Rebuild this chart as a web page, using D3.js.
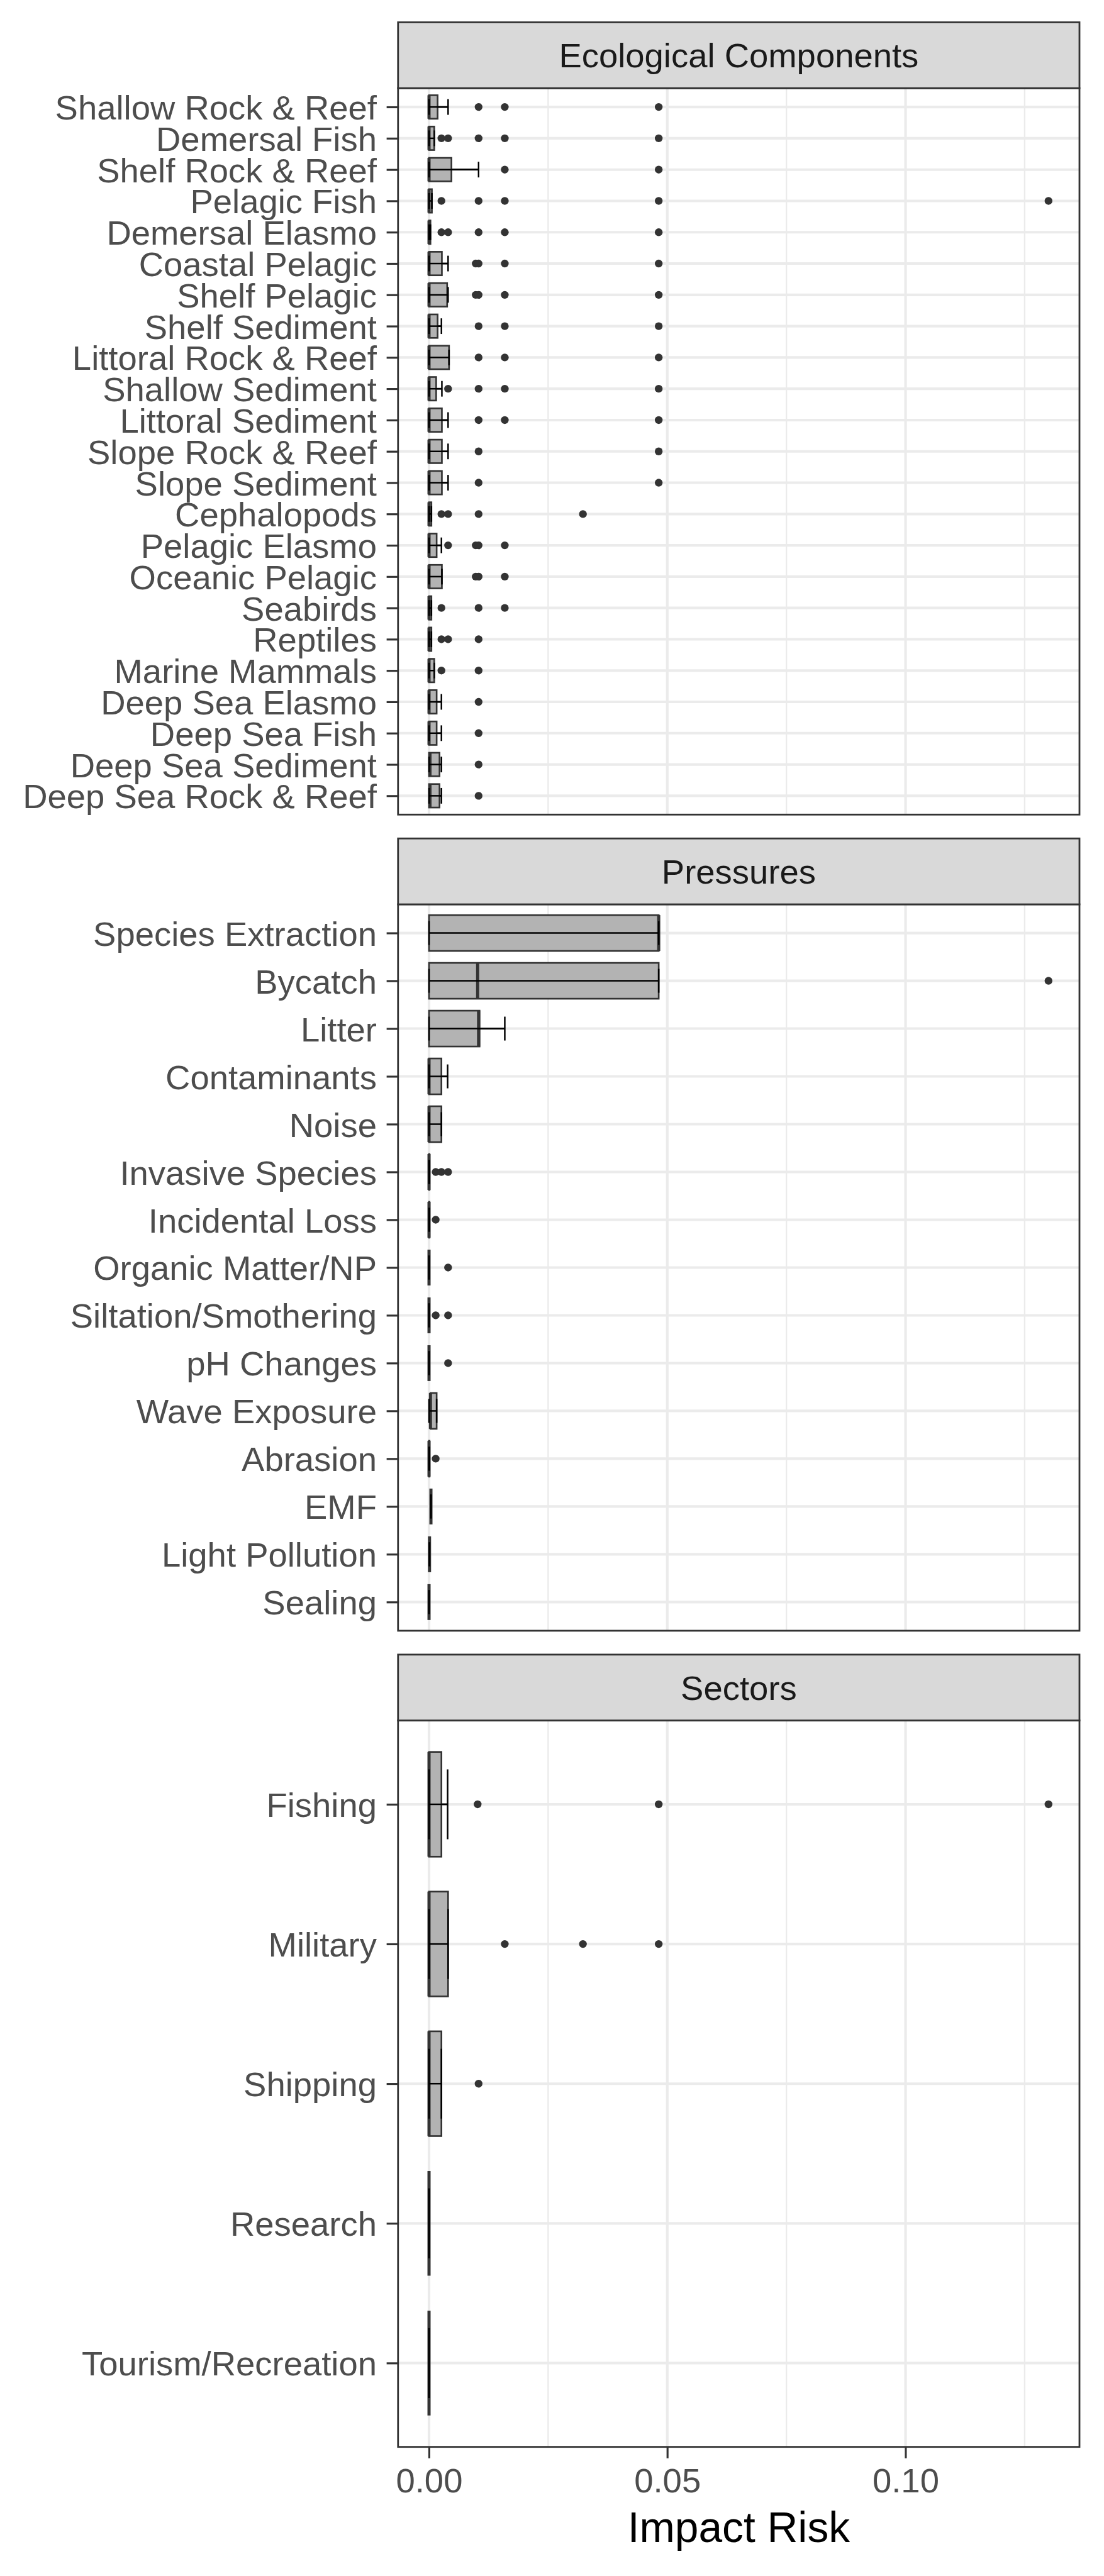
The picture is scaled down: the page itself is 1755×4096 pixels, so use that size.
<!DOCTYPE html>
<html><head><meta charset="utf-8">
<script src="https://cdn.jsdelivr.net/npm/d3@7"></script>
<style>body{margin:0;background:#fff}text{font-family:"Liberation Sans",Arial,Helvetica,sans-serif}</style>
</head><body>
<svg id="c" width="1755" height="4096"></svg>
<script>
// ---------- DATA ----------
const panelTitles = ["Ecological Components", "Pressures", "Sectors"];
const xTickValues = [0, 0.05, 0.10];
const xTickLabels = ["0.00", "0.05", "0.10"];
const xMinorValues = [0.025, 0.075, 0.125];
const axisTitle = "Impact Risk";

const ecoCategories = ["Shallow Rock & Reef","Demersal Fish","Shelf Rock & Reef","Pelagic Fish","Demersal Elasmo","Coastal Pelagic","Shelf Pelagic","Shelf Sediment","Littoral Rock & Reef","Shallow Sediment","Littoral Sediment","Slope Rock & Reef","Slope Sediment","Cephalopods","Pelagic Elasmo","Oceanic Pelagic","Seabirds","Reptiles","Marine Mammals","Deep Sea Elasmo","Deep Sea Fish","Deep Sea Sediment","Deep Sea Rock & Reef"];
const ecoQ1     = [0,0,0,0,0,0,0,0,0,0,0,0,0,0,0,0,0,0,0,0,0,0,0];
const ecoMedian = [0,0,0,0,0,0,0,0,0,0,0,0,0,0,0,0,0,0,0,0,0,0.0002,0.0002];
const ecoQ3     = [0.0018,0.0011,0.0047,0.0006,0.0003,0.0027,0.0038,0.0018,0.0042,0.0015,0.0027,0.0027,0.0027,0.0005,0.0016,0.0027,0.0005,0.0005,0.0011,0.0016,0.0016,0.0022,0.0022];
const ecoWhiskerLow  = [0,0,0,0,0,0,0,0,0,0,0,0,0,0,0,0,0,0,0,0,0,0,0];
const ecoWhiskerHigh = [0.0040,0.0011,0.0104,0.0006,0.0003,0.0040,0.0040,0.0026,0.0042,0.0027,0.0040,0.0040,0.0040,0.0005,0.0026,0.0027,0.0005,0.0005,0.0011,0.0026,0.0026,0.0026,0.0026];
const ecoOutliers = [
  [0.0104,0.0159,0.0482],
  [0.0026,0.0040,0.0104,0.0159,0.0482],
  [0.0159,0.0482],
  [0.0026,0.0104,0.0159,0.0482,0.1300],
  [0.0026,0.0040,0.0104,0.0159,0.0482],
  [0.0098,0.0104,0.0159,0.0482],
  [0.0098,0.0104,0.0159,0.0482],
  [0.0104,0.0159,0.0482],
  [0.0104,0.0159,0.0482],
  [0.0040,0.0104,0.0159,0.0482],
  [0.0104,0.0159,0.0482],
  [0.0104,0.0482],
  [0.0104,0.0482],
  [0.0026,0.0040,0.0104,0.0323],
  [0.0040,0.0098,0.0104,0.0159],
  [0.0098,0.0104,0.0159],
  [0.0026,0.0104,0.0159],
  [0.0026,0.0040,0.0104],
  [0.0026,0.0104],
  [0.0104],
  [0.0104],
  [0.0104],
  [0.0104]
];

const presCategories = ["Species Extraction","Bycatch","Litter","Contaminants","Noise","Invasive Species","Incidental Loss","Organic Matter/NP","Siltation/Smothering","pH Changes","Wave Exposure","Abrasion","EMF","Light Pollution","Sealing"];
const presQ1     = [0,0,0,0,0,0,0,0,0,0,0.0003,0,0.0004,0.0001,0];
const presMedian = [0.0482,0.0102,0.0104,0,0,0,0,0,0,0,0.0003,0,0.0004,0.0001,0];
const presQ3     = [0.0482,0.0482,0.0106,0.0026,0.0026,0.0001,0.0001,0,0,0,0.0016,0.0001,0.0004,0.0001,0];
const presWhiskerLow  = [0,0,0,0,0,0,0,0,0,0,0,0,0.0004,0.0001,0];
const presWhiskerHigh = [0.0482,0.0482,0.0159,0.0039,0.0026,0.0001,0.0001,0,0,0,0.0016,0.0001,0.0004,0.0001,0];
const presOutliers = [[],[0.1300],[],[],[],[0.0014,0.0026,0.0040],[0.0014],[0.0040],[0.0014,0.0040],[0.0040],[],[0.0014],[],[],[]];

const sectCategories = ["Fishing","Military","Shipping","Research","Tourism/Recreation"];
const sectQ1     = [0,0,0,0,0];
const sectMedian = [0,0,0,0,0];
const sectQ3     = [0.0026,0.0040,0.0026,0,0];
const sectWhiskerLow  = [0,0,0,0,0];
const sectWhiskerHigh = [0.0039,0.0040,0.0026,0,0];
const sectOutliers = [[0.0102,0.0482,0.1300],[0.0159,0.0323,0.0482],[0.0104],[],[]];

// ---------- BUILD ----------
function buildRows(cats, q1, med, q3, wl, wh, out) {
  return cats.map((c, i) => ({cat: c, q1: q1[i], med: med[i], q3: q3[i], wl: wl[i], wh: wh[i], out: out[i]}));
}
const panels = [
  {title: panelTitles[0], cats: ecoCategories, rows: buildRows(ecoCategories, ecoQ1, ecoMedian, ecoQ3, ecoWhiskerLow, ecoWhiskerHigh, ecoOutliers)},
  {title: panelTitles[1], cats: presCategories, rows: buildRows(presCategories, presQ1, presMedian, presQ3, presWhiskerLow, presWhiskerHigh, presOutliers)},
  {title: panelTitles[2], cats: sectCategories, rows: buildRows(sectCategories, sectQ1, sectMedian, sectQ3, sectWhiskerLow, sectWhiskerHigh, sectOutliers)}
];

const S = 0.825;
const svg = d3.select("#c");
svg.append("rect").attr("width", 1755).attr("height", 4096).attr("fill", "#fff");
const root = svg.append("g").attr("transform", `scale(${S})`);

// layout in reference pixels
const PL = 767, PR = 2080;
const stripH = 127, panelH = 1400, gap = 46, firstTop = 43;
const FONT = 66;

let allVals = [];
panels.forEach(p => p.rows.forEach(r => { allVals.push(r.q1, r.q3, r.wl, r.wh, ...r.out); }));
const lo = d3.min(allVals), hi = d3.max(allVals), pad = (hi - lo) * 0.05;
const x = d3.scaleLinear().domain([lo - pad, hi + pad]).range([PL, PR]);

const GRID = "#EBEBEB", DARK = "#333333";
const LW = 3.2;

panels.forEach((p, pi) => {
  const sTop = firstTop + pi * (stripH + panelH + gap);
  const pTop = sTop + stripH, pBot = pTop + panelH;
  const g = root.append("g");

  g.append("rect").attr("x", PL).attr("y", pTop).attr("width", PR - PL).attr("height", panelH).attr("fill", "#fff");

  const y = d3.scalePoint().domain(p.cats).range([pTop, pBot]).padding(0.6);
  const step = y.step();

  g.selectAll(".gmin").data(xMinorValues).join("line")
    .attr("x1", d => x(d)).attr("x2", d => x(d)).attr("y1", pTop).attr("y2", pBot)
    .attr("stroke", GRID).attr("stroke-width", 2.8);
  g.selectAll(".gmajx").data(xTickValues).join("line")
    .attr("x1", d => x(d)).attr("x2", d => x(d)).attr("y1", pTop).attr("y2", pBot)
    .attr("stroke", GRID).attr("stroke-width", 5);
  g.selectAll(".gmajy").data(p.cats).join("line")
    .attr("x1", PL).attr("x2", PR).attr("y1", d => y(d)).attr("y2", d => y(d))
    .attr("stroke", GRID).attr("stroke-width", 5);

  const bw = step * 0.75, cw = step * 0.5;
  const box = g.selectAll(".box").data(p.rows).join("g");
  box.append("line").attr("x1", d => x(d.q3)).attr("x2", d => x(d.wh)).attr("y1", d => y(d.cat)).attr("y2", d => y(d.cat))
    .attr("stroke", DARK).attr("stroke-width", LW);
  box.append("line").attr("x1", d => x(d.wl)).attr("x2", d => x(d.q1)).attr("y1", d => y(d.cat)).attr("y2", d => y(d.cat))
    .attr("stroke", DARK).attr("stroke-width", LW);
  box.append("rect").attr("x", d => x(d.q1)).attr("width", d => x(d.q3) - x(d.q1))
    .attr("y", d => y(d.cat) - bw / 2).attr("height", bw)
    .attr("fill", "#B3B3B3").attr("stroke", DARK).attr("stroke-width", LW);
  box.append("line").attr("x1", d => x(d.med)).attr("x2", d => x(d.med))
    .attr("y1", d => y(d.cat) - bw / 2).attr("y2", d => y(d.cat) + bw / 2)
    .attr("stroke", DARK).attr("stroke-width", 6);
  box.each(function(d) {
    d3.select(this).selectAll("circle").data(d.out).join("circle")
      .attr("cx", v => x(v)).attr("cy", y(d.cat)).attr("r", 7.5).attr("fill", DARK);
  });
  box.append("line").attr("x1", d => x(d.wl)).attr("x2", d => x(d.wh)).attr("y1", d => y(d.cat)).attr("y2", d => y(d.cat))
    .attr("stroke", "#000").attr("stroke-width", 3);
  box.append("line").attr("x1", d => x(d.wl)).attr("x2", d => x(d.wl))
    .attr("y1", d => y(d.cat) - cw / 2).attr("y2", d => y(d.cat) + cw / 2).attr("stroke", "#000").attr("stroke-width", 3);
  box.append("line").attr("x1", d => x(d.wh)).attr("x2", d => x(d.wh))
    .attr("y1", d => y(d.cat) - cw / 2).attr("y2", d => y(d.cat) + cw / 2).attr("stroke", "#000").attr("stroke-width", 3);

  g.append("rect").attr("x", PL).attr("y", pTop).attr("width", PR - PL).attr("height", panelH)
    .attr("fill", "none").attr("stroke", DARK).attr("stroke-width", 3.4);

  g.append("rect").attr("x", PL).attr("y", sTop).attr("width", PR - PL).attr("height", stripH)
    .attr("fill", "#D9D9D9").attr("stroke", DARK).attr("stroke-width", 3.4);
  g.append("text").attr("x", (PL + PR) / 2).attr("y", sTop + stripH / 2).attr("dy", "0.36em")
    .attr("text-anchor", "middle").attr("font-size", FONT).attr("fill", "#1A1A1A").text(p.title);

  const ya = g.append("g").attr("transform", `translate(${PL},0)`)
    .call(d3.axisLeft(y).tickSize(22).tickPadding(19));
  ya.select(".domain").remove();
  ya.selectAll(".tick line").attr("stroke", DARK).attr("stroke-width", 3.8);
  ya.selectAll(".tick text").attr("font-size", FONT).attr("fill", "#4D4D4D").attr("dy", "0.36em")
    .attr("font-family", '"Liberation Sans",Arial,Helvetica,sans-serif');

  if (pi === panels.length - 1) {
    const xa = g.append("g").attr("transform", `translate(0,${pBot})`)
      .call(d3.axisBottom(x).tickValues(xTickValues).tickFormat((d, i) => xTickLabels[i]).tickSize(22).tickPadding(19));
    xa.select(".domain").remove();
    xa.selectAll(".tick line").attr("stroke", DARK).attr("stroke-width", 3.8);
    xa.selectAll(".tick text").attr("font-size", FONT).attr("fill", "#4D4D4D")
      .attr("font-family", '"Liberation Sans",Arial,Helvetica,sans-serif');
    g.append("text").attr("x", (PL + PR) / 2).attr("y", 4899).attr("text-anchor", "middle")
      .attr("font-size", 82).attr("fill", "#000").text(axisTitle);
  }
});
</script>
</body></html>
